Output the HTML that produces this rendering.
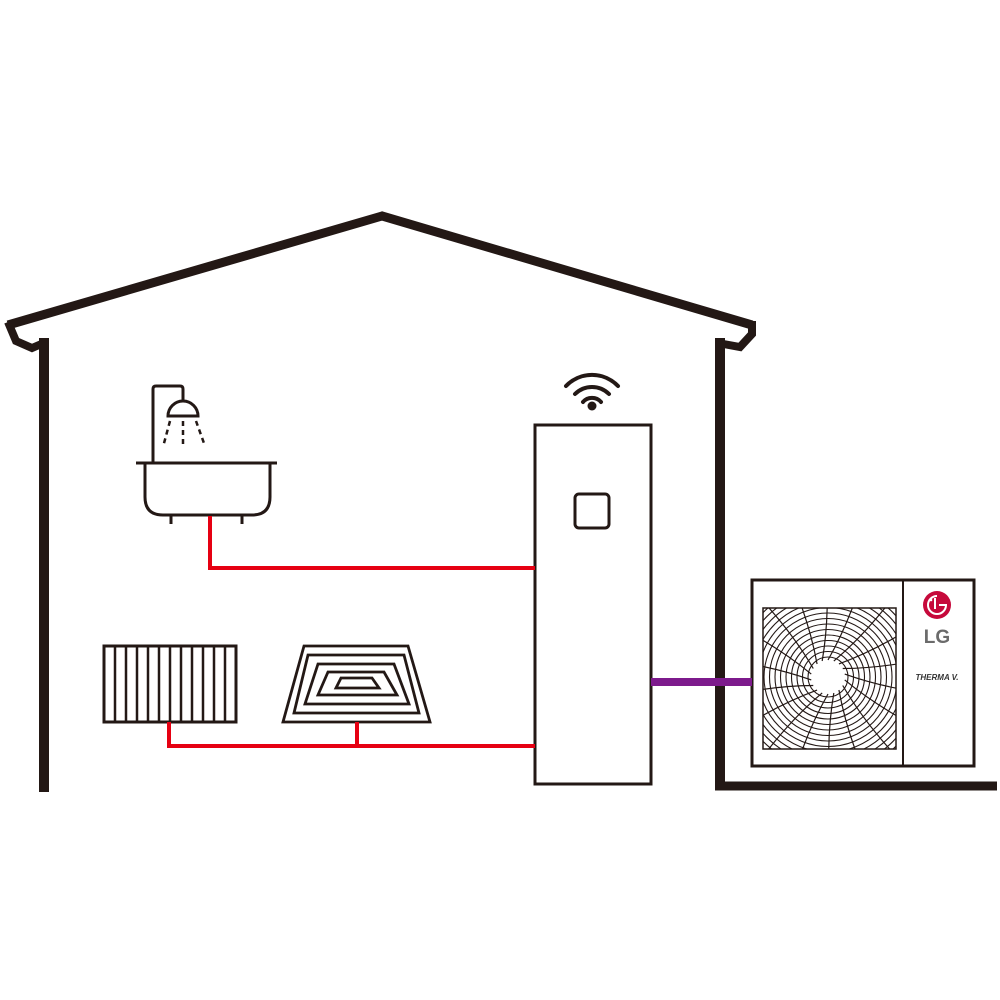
<!DOCTYPE html>
<html><head><meta charset="utf-8"><style>html,body{margin:0;padding:0;background:#fff}svg{display:block}</style></head>
<body>
<svg width="1000" height="1000" viewBox="0 0 1000 1000" xmlns="http://www.w3.org/2000/svg">
<defs>
<clipPath id="g"><rect x="763" y="608" width="133" height="141"/></clipPath>
<path id="sp" d="M828,660 Q848,625 862,580" fill="none" stroke="#231815" stroke-width="1.2"/>
</defs>
<rect width="1000" height="1000" fill="#fff"/>
<g stroke="#231815" fill="none" stroke-linejoin="miter">
<polyline points="8,325 382,216 752,325" stroke-width="9"/>
<polyline points="8,322 16,341 32,348 46,342" stroke-width="8"/>
<polyline points="752,321 752,334 740,347 718,343" stroke-width="8"/>
<line x1="44" y1="338" x2="44" y2="792" stroke-width="10"/>
<line x1="720" y1="338" x2="720" y2="790" stroke-width="10"/>
<line x1="715" y1="786" x2="997" y2="786" stroke-width="9"/>
<line x1="136" y1="463" x2="277" y2="463" stroke-width="3"/>
<path d="M145,463 V497 Q145,515 163,515 H252 Q270,515 270,497 V463" stroke-width="3"/>
<line x1="171" y1="515" x2="171" y2="524" stroke-width="3"/>
<line x1="242" y1="515" x2="242" y2="524" stroke-width="3"/>
<path d="M153,463 V389 Q153,386 156,386 H180 Q183,386 183,389 V401" stroke-width="3"/>
<path d="M168,416 A15,15 0 0 1 198,416 Z" stroke-width="3"/>
<g stroke-width="2.5" stroke-dasharray="5,4">
<line x1="170" y1="421" x2="163" y2="447"/>
<line x1="183" y1="421" x2="183" y2="447"/>
<line x1="196" y1="421" x2="205" y2="446"/>
</g>
<rect x="535" y="425" width="116" height="359" stroke-width="3"/>
<rect x="575" y="494" width="34" height="34" rx="4" stroke-width="3"/>
<path d="M566,386 A36,36 0 0 1 618,386" stroke-width="4" stroke-linecap="round"/>
<path d="M575,394 A24,24 0 0 1 609,394" stroke-width="4" stroke-linecap="round"/>
<path d="M583,402 A12,12 0 0 1 601,402" stroke-width="4" stroke-linecap="round"/>
<rect x="104" y="646" width="132" height="76" stroke-width="3"/>
<g stroke-width="2.5">
<line x1="115" y1="646" x2="115" y2="722"/><line x1="126" y1="646" x2="126" y2="722"/>
<line x1="137" y1="646" x2="137" y2="722"/><line x1="148" y1="646" x2="148" y2="722"/>
<line x1="159" y1="646" x2="159" y2="722"/><line x1="170" y1="646" x2="170" y2="722"/>
<line x1="181" y1="646" x2="181" y2="722"/><line x1="192" y1="646" x2="192" y2="722"/>
<line x1="203" y1="646" x2="203" y2="722"/><line x1="214" y1="646" x2="214" y2="722"/>
<line x1="225" y1="646" x2="225" y2="722"/>
</g>
<g stroke-width="2.8">
<polygon points="304,646 408,646 430,722 283,722"/>
<polygon points="308,655 404,655 419,713 294,713"/>
<polygon points="318,664 394,664 409,704 305,704"/>
<polygon points="328,672 384,672 397,695 318,695"/>
<polygon points="341,678 372,678 379,688 336,688"/>
</g>
<rect x="752" y="580" width="222" height="186" stroke-width="3"/>
<line x1="903" y1="580" x2="903" y2="766" stroke-width="2"/>
<rect x="763" y="608" width="133" height="141" stroke-width="1.5"/>
<g clip-path="url(#g)" stroke-width="1.1">
<circle cx="828" cy="677" r="20"/><circle cx="828" cy="677" r="25.5"/><circle cx="828" cy="677" r="31"/>
<circle cx="828" cy="677" r="36.5"/><circle cx="828" cy="677" r="42"/><circle cx="828" cy="677" r="47.5"/>
<circle cx="828" cy="677" r="53"/><circle cx="828" cy="677" r="58.5"/><circle cx="828" cy="677" r="64"/>
<circle cx="828" cy="677" r="69.5"/><circle cx="828" cy="677" r="75"/><circle cx="828" cy="677" r="80.5"/>
<circle cx="828" cy="677" r="86"/><circle cx="828" cy="677" r="91.5"/><circle cx="828" cy="677" r="97"/>
<use href="#sp"/><use href="#sp" transform="rotate(20 828 677)"/><use href="#sp" transform="rotate(40 828 677)"/>
<use href="#sp" transform="rotate(60 828 677)"/><use href="#sp" transform="rotate(80 828 677)"/><use href="#sp" transform="rotate(100 828 677)"/>
<use href="#sp" transform="rotate(120 828 677)"/><use href="#sp" transform="rotate(140 828 677)"/><use href="#sp" transform="rotate(160 828 677)"/>
<use href="#sp" transform="rotate(180 828 677)"/><use href="#sp" transform="rotate(200 828 677)"/><use href="#sp" transform="rotate(220 828 677)"/>
<use href="#sp" transform="rotate(240 828 677)"/><use href="#sp" transform="rotate(260 828 677)"/><use href="#sp" transform="rotate(280 828 677)"/>
<use href="#sp" transform="rotate(300 828 677)"/><use href="#sp" transform="rotate(320 828 677)"/><use href="#sp" transform="rotate(340 828 677)"/>
</g>
</g>
<circle cx="592" cy="406" r="4.5" fill="#231815"/>
<circle cx="828" cy="677" r="16" fill="#fff"/>
<g stroke="#e60012" stroke-width="4" fill="none">
<polyline points="210,516 210,568 535,568"/>
<polyline points="169,722 169,746 535,746"/>
<line x1="357" y1="722" x2="357" y2="746"/>
</g>
<line x1="651" y1="682" x2="752" y2="682" stroke="#7d1a8c" stroke-width="8"/>
<circle cx="937" cy="605" r="14" fill="#c6093b"/>
<path d="M937,596 A9,9 0 1 0 946,605 H939" fill="none" stroke="#fff" stroke-width="2"/>
<line x1="935" y1="598" x2="935" y2="609" stroke="#fff" stroke-width="2"/>
<circle cx="931" cy="600" r="1.3" fill="#fff"/>
<text x="937" y="643" font-family="Liberation Sans, sans-serif" font-weight="bold" font-size="19" fill="#6b6b6b" text-anchor="middle">LG</text>
<text x="937" y="680" font-family="Liberation Sans, sans-serif" font-weight="bold" font-style="italic" font-size="8" fill="#333" text-anchor="middle">THERMA V.</text>
</svg>
</body></html>
